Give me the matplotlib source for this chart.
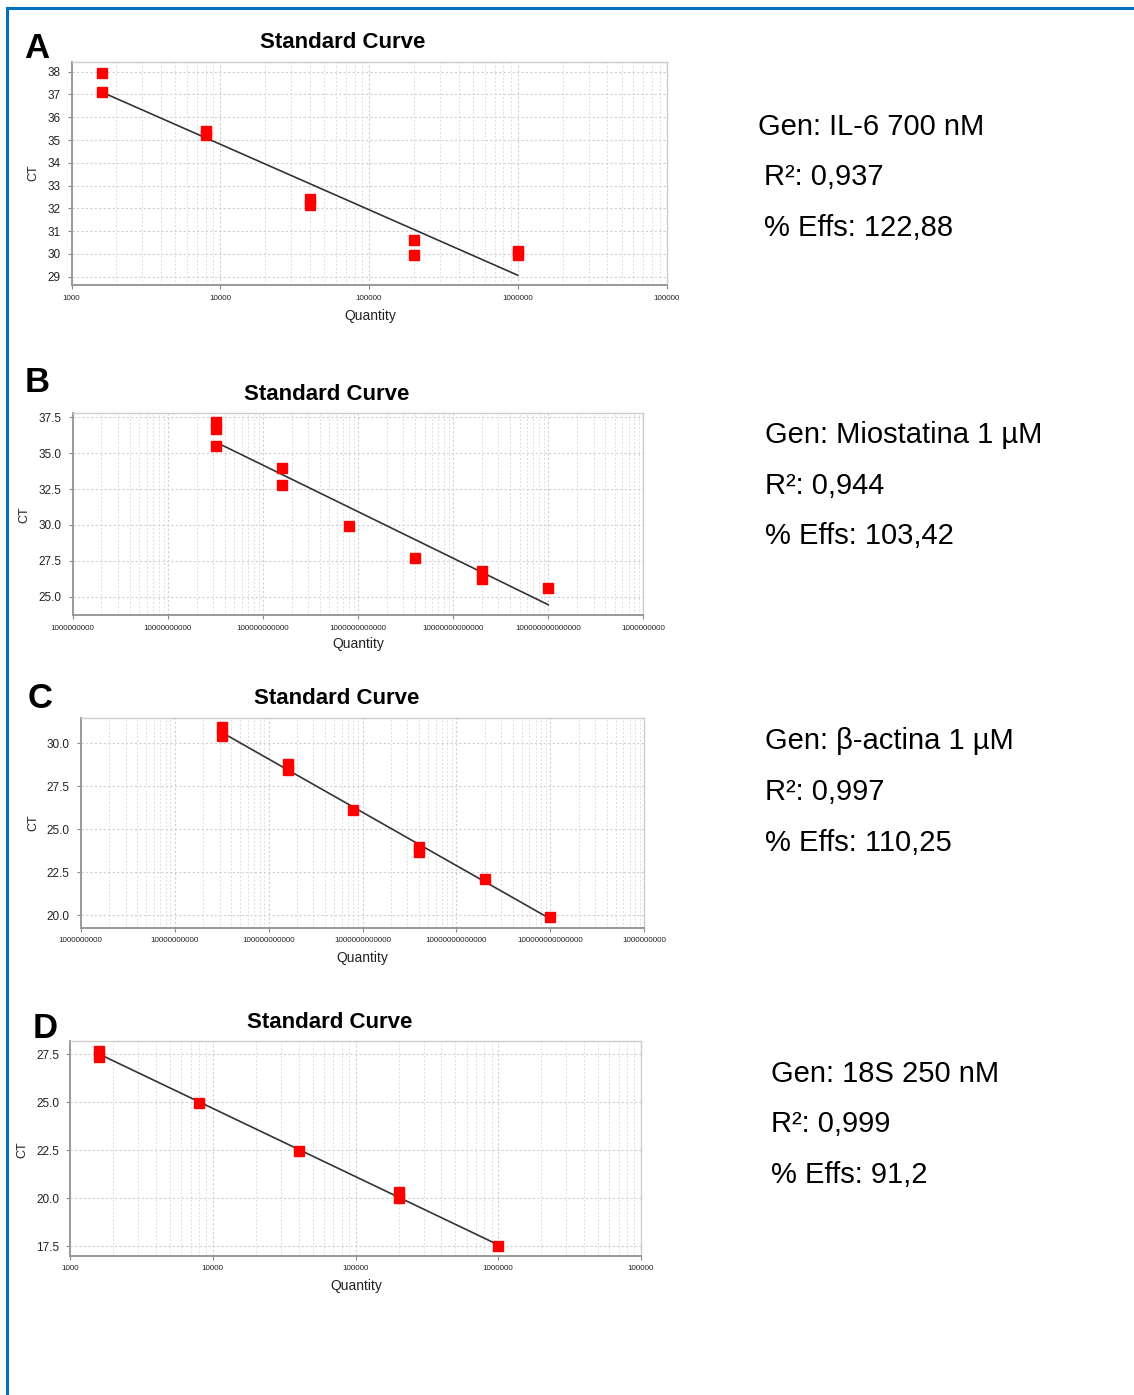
import numpy as np
import matplotlib
matplotlib.use('Agg')
import matplotlib.pyplot as plt
from matplotlib.lines import Line2D
from matplotlib.ticker import FixedLocator, LogLocator, NullFormatter

plt.rcParams['font.family'] = ['Liberation Sans', 'DejaVu Sans']

W, H = 1134, 1395

# --- data ---
# A: IL-6 700 nM
qty_a = [1600, 1600, 8000, 8000, 40000, 40000, 200000, 200000, 1000000, 1000000]
ct_a = [37.95, 37.1, 35.4, 35.2, 32.4, 32.15, 30.6, 29.95, 30.15, 29.95]
# B: Miostatina 1 uM
qty_b = [3.2e10, 3.2e10, 3.2e10, 1.6e11, 1.6e11, 8e11, 4e12, 2e13, 2e13, 1e14]
ct_b = [37.15, 36.7, 35.5, 34.0, 32.75, 29.9, 27.7, 26.8, 26.25, 25.6]
# C: beta-actina 1 uM
qty_c = [3.2e10, 3.2e10, 1.6e11, 1.6e11, 8e11, 4e12, 4e12, 2e13, 1e14]
ct_c = [30.95, 30.45, 28.8, 28.45, 26.1, 24.0, 23.7, 22.1, 19.9]
# D: 18S 250 nM
qty_d = [1600, 1600, 8000, 40000, 200000, 200000, 1000000]
ct_d = [27.65, 27.35, 24.95, 22.45, 20.3, 20.0, 17.5]

# efficiencies (%) printed next to each curve
eff_a, eff_b, eff_c, eff_d = 122.88, 103.42, 110.25, 91.2

xt_small = [1e3, 1e4, 1e5, 1e6, 1e7]
xl_small = ['1000', '10000', '100000', '1000000', '100000']
xt_big = [1e9, 1e10, 1e11, 1e12, 1e13, 1e14, 1e15]
xl_big = ['1000000000', '10000000000', '100000000000', '1000000000000',
          '10000000000000', '100000000000000', '1000000000']

yt_a = [29, 30, 31, 32, 33, 34, 35, 36, 37, 38]
yt_b = [25.0, 27.5, 30.0, 32.5, 35.0, 37.5]
yt_c = [20.0, 22.5, 25.0, 27.5, 30.0]
yt_d = [17.5, 20.0, 22.5, 25.0, 27.5]

info_a = ['Gen: IL-6 700 nM', 'R²: 0,937', '% Effs: 122,88']
info_b = ['Gen: Miostatina 1 µM', 'R²: 0,944', '% Effs: 103,42']
info_c = ['Gen: β-actina 1 µM', 'R²: 0,997', '% Effs: 110,25']
info_d = ['Gen: 18S 250 nM', 'R²: 0,999', '% Effs: 91,2']

panels = [
    dict(letter='A', q=qty_a, ct=ct_a, eff=eff_a, xt=xt_small, xl=xl_small, yt=yt_a, yfmt='{:.0f}',
         ylim=(28.64, 38.41), box=(71.5, 62.3, 666.5, 285), title=(343, 43), lpos=(37, 49),
         cty=(33, 173), qpos=(370, 316), info=info_a, ipos=[(758, 127), (764, 177), (764, 228)]),
    dict(letter='B', q=qty_b, ct=ct_b, eff=eff_b, xt=xt_big, xl=xl_big, yt=yt_b, yfmt='{:.1f}',
         ylim=(23.72, 37.82), box=(72.8, 412.7, 643.3, 615), title=(327, 395), lpos=(37, 382),
         cty=(24, 515), qpos=(358, 644), info=info_b, ipos=[(765, 435), (765, 486), (765, 536)]),
    dict(letter='C', q=qty_c, ct=ct_c, eff=eff_c, xt=xt_big, xl=xl_big, yt=yt_c, yfmt='{:.1f}',
         ylim=(19.28, 31.49), box=(80.8, 717.7, 644.2, 927.7), title=(337, 699), lpos=(40, 698),
         cty=(33, 823), qpos=(362, 958), info=info_c, ipos=[(765, 741), (765, 792), (765, 843)]),
    dict(letter='D', q=qty_d, ct=ct_d, eff=eff_d, xt=xt_small, xl=xl_small, yt=yt_d, yfmt='{:.1f}',
         ylim=(17.0, 28.18), box=(70.1, 1041, 641, 1255.7), title=(330, 1022), lpos=(45, 1028),
         cty=(22, 1150), qpos=(356, 1286), info=info_d, ipos=[(771, 1074), (771, 1124), (771, 1175)]),
]

fig = plt.figure(figsize=(W / 100, H / 100), dpi=100)


def fx(x):
    return x / W


def fy(y):
    return 1 - y / H


for p in panels:
    x0, y0, x1, y1 = p['box']
    ax = fig.add_axes([fx(x0), fy(y1), (x1 - x0) / W, (y1 - y0) / H])
    q = np.array(p['q'])
    ct = np.array(p['ct'])
    lq = np.log10(q)

    # standard curve: slope from the efficiency, intercept by least squares
    k = -1 / np.log10(1 + p['eff'] / 100)
    b = ct.mean() - k * lq.mean()
    qq = np.array([q.min(), q.max()])
    ax.plot(qq, k * np.log10(qq) + b, color='#333333', lw=1.2, zorder=2)
    ax.plot(q, ct, 's', ms=7.8, color='#ff0000', mec='#ff0000', zorder=3, clip_on=False)

    ax.set_xscale('log')
    ax.set_xlim(p['xt'][0], p['xt'][-1])
    ax.set_ylim(*p['ylim'])
    ax.xaxis.set_major_locator(FixedLocator(p['xt']))
    ax.xaxis.set_minor_locator(LogLocator(base=10, subs=np.arange(2, 10), numticks=50))
    ax.xaxis.set_minor_formatter(NullFormatter())
    ax.set_xticklabels(p['xl'], fontsize=5.8, color='#222222')
    ax.set_yticks(p['yt'])
    ax.set_yticklabels([p['yfmt'].format(v) for v in p['yt']], fontsize=8.5, color='#222222')

    ax.grid(which='major', axis='x', ls=(0, (2, 2)), color='#cfcfcf', lw=0.8)
    ax.grid(which='minor', axis='x', ls=(0, (2, 2)), color='#dddddd', lw=0.7)
    ax.grid(which='major', axis='y', ls=(0, (2, 2)), color='#cfcfcf', lw=0.8)
    ax.set_axisbelow(True)
    ax.tick_params(axis='both', which='major', length=3, width=0.8, color='#888888')
    ax.tick_params(axis='x', which='major', pad=4)
    ax.tick_params(axis='y', which='major', pad=5)
    ax.tick_params(axis='x', which='minor', length=0)
    for s in ['left', 'bottom']:
        ax.spines[s].set_color('#999999')
        ax.spines[s].set_linewidth(1.4)
    for s in ['top', 'right']:
        ax.spines[s].set_color('#cccccc')
        ax.spines[s].set_linewidth(1.0)

    fig.text(fx(p['title'][0]), fy(p['title'][1]), 'Standard Curve', fontsize=16,
             fontweight='bold', ha='center', va='center')
    fig.text(fx(p['lpos'][0]), fy(p['lpos'][1]), p['letter'], fontsize=25,
             fontweight='bold', ha='center', va='center')
    fig.text(fx(p['cty'][0]), fy(p['cty'][1]), 'CT', fontsize=9, rotation=90,
             ha='center', va='center', color='#222222')
    fig.text(fx(p['qpos'][0]), fy(p['qpos'][1]), 'Quantity', fontsize=10,
             ha='center', va='center', color='#222222')
    for txt, (tx, ty) in zip(p['info'], p['ipos']):
        fig.text(fx(tx), fy(ty), txt, fontsize=21, ha='left', va='center')

# blue frame on the left and top
fig.add_artist(Line2D([fx(7), fx(7)], [fy(H), fy(8)], color='#0070c0', lw=2.2))
fig.add_artist(Line2D([fx(7), fx(W)], [fy(8), fy(8)], color='#0070c0', lw=2.2))

fig.savefig('out.png', dpi=100)
